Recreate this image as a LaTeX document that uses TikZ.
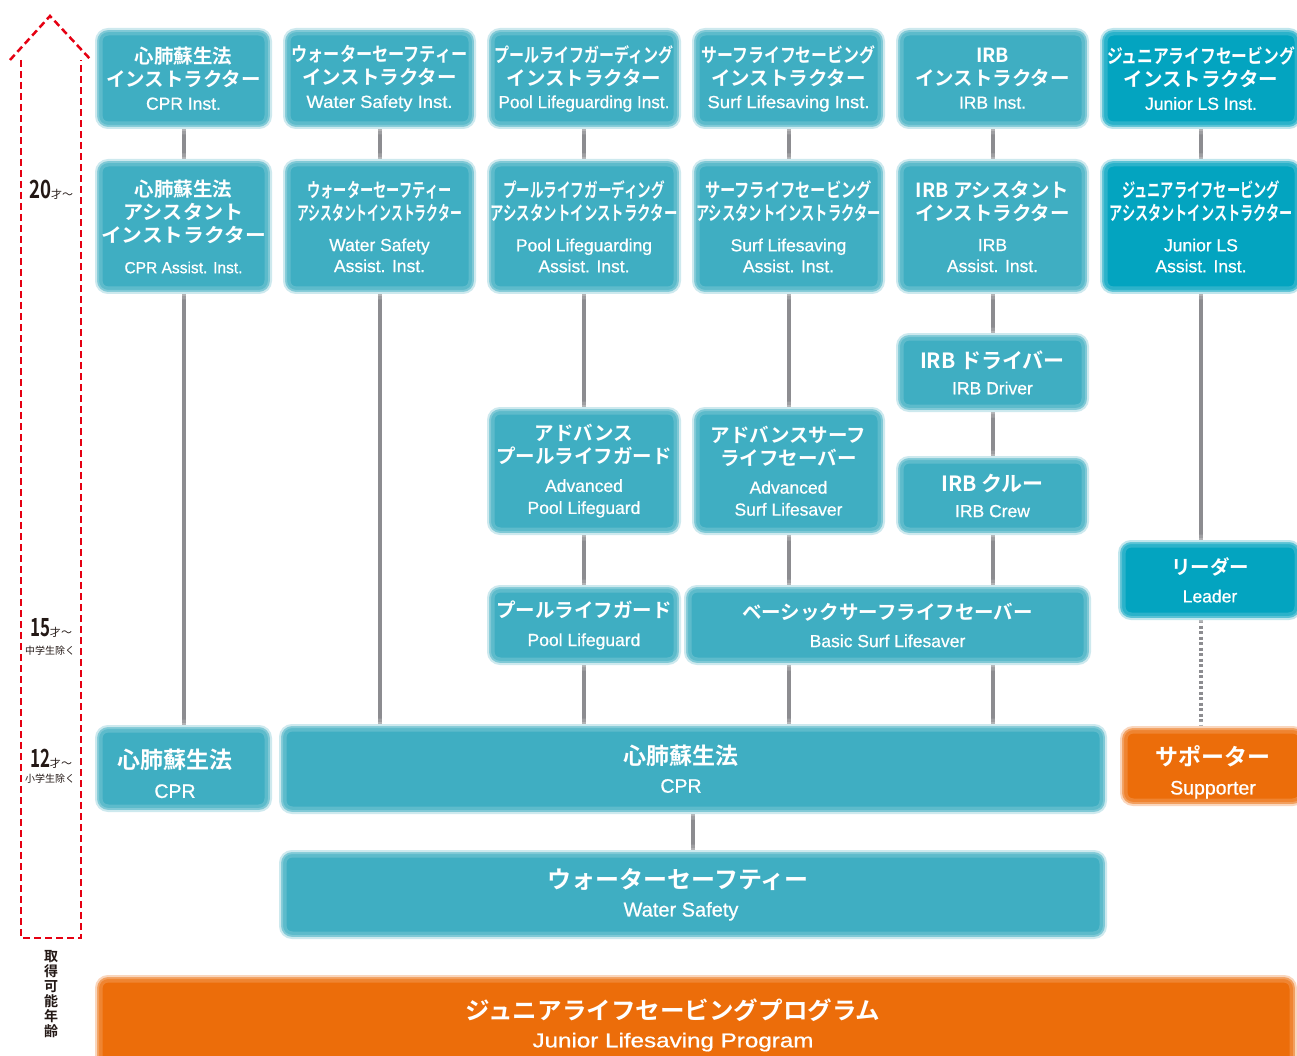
\documentclass[tikz,border=0pt]{standalone}
\usepackage{fontspec}
\usepackage{graphicx}
\setmainfont{Noto Sans CJK JP}[BoldFont={Noto Sans CJK JP Bold}]
\newfontfamily\lat{Liberation Sans}[FakeBold=0.7]
\usetikzlibrary{backgrounds}
\definecolor{tealA}{HTML}{3FAEC2}
\definecolor{tealAedge}{HTML}{B3DEE7}
\definecolor{tealB}{HTML}{03A4C0}
\definecolor{tealBedge}{HTML}{A0D9E4}
\definecolor{orng}{HTML}{EC6D0A}
\definecolor{orngedge}{HTML}{F7C29C}
\definecolor{linegray}{HTML}{8C8C90}
\definecolor{redd}{HTML}{E50012}
\definecolor{inkk}{HTML}{231815}
\newcommand\fw[2]{\resizebox{#1}{\height}{#2}}
\newcommand\en[1]{{\fontsize{17.5}{21}\selectfont\lat\mdseries #1}}
\newcommand\enb[2]{{\fontsize{#1}{#1}\selectfont\lat\mdseries #2}}
\begin{document}
\begin{tikzpicture}[x=1pt,y=-1pt,
  box/.style={rounded corners=12pt, fill=tealA, draw=tealAedge, line width=2pt,
    text=white, align=center, inner sep=0pt,
    font=\fontsize{19.5}{23}\selectfont\bfseries,
    postaction={draw=white, draw opacity=0.16, line width=13pt},
    postaction={draw=white, draw opacity=0.22, line width=6pt}},
  jbox/.style={box, fill=tealB, draw=tealBedge},
  obox/.style={box, fill=orng, draw=orngedge},
  conn/.style={draw=linegray, line width=4pt},
  dotconn/.style={conn, dash pattern=on 3pt off 2.5pt},
  agebox/.style={draw=redd, line width=2.5pt, dash pattern=on 7pt off 4pt},
  lbl/.style={text=inkk, inner sep=0pt, align=center}
]
\useasboundingbox (0,0) rectangle (1297,1056);
\clip (0,0) rectangle (1297,1056);

% ---- row 1
\node[box, minimum width=175pt, minimum height=99pt] (c11) at (183.5,78.5)
  {心肺蘇生法\\インストラクター\\\en{CPR Inst.}};
\node[box, minimum width=191pt, minimum height=99pt] (c12) at (379.5,78.5)
  {\fw{176pt}{ウォーターセーフティー}\\インストラクター\\\en{\fw{146pt}{Water Safety Inst.}}};
\node[box, minimum width=192pt, minimum height=99pt] (c13) at (584,78.5)
  {\fw{179pt}{プールライフガーディング}\\インストラクター\\\en{\fw{171pt}{Pool Lifeguarding Inst.}}};
\node[box, minimum width=191pt, minimum height=99pt] (c14) at (788.5,78.5)
  {\fw{174pt}{サーフライフセービング}\\インストラクター\\\en{\fw{162pt}{Surf Lifesaving Inst.}}};
\node[box, minimum width=191pt, minimum height=99pt] (c15) at (992.5,78.5)
  {IRB\\インストラクター\\\en{IRB Inst.}};
\node[jbox, minimum width=200pt, minimum height=99pt] (c16) at (1201,78.5)
  {\fw{188pt}{ジュニアライフセービング}\\インストラクター\\\en{Junior LS Inst.}};

% ---- row 2
\node[box, minimum width=175pt, minimum height=133pt] (c21) at (183.5,226.5)
  {心肺蘇生法\\\fw{120pt}{アシスタント}\\\fw{165pt}{インストラクター}\\[8pt]\enb{16}{\fw{118pt}{CPR Assist. Inst.}}};
\node[box, minimum width=191pt, minimum height=133pt] (c22) at (379.5,226.5)
  {\fw{144pt}{ウォーターセーフティー}\\\fw{165pt}{アシスタントインストラクター}\\[8pt]\en{Water Safety}\\[-2pt]\en{Assist. Inst.}};
\node[box, minimum width=192pt, minimum height=133pt] (c23) at (584,226.5)
  {\fw{162pt}{プールライフガーディング}\\\fw{187pt}{アシスタントインストラクター}\\[8pt]\en{Pool Lifeguarding}\\[-2pt]\en{Assist. Inst.}};
\node[box, minimum width=191pt, minimum height=133pt] (c24) at (788.5,226.5)
  {\fw{167pt}{サーフライフセービング}\\\fw{185pt}{アシスタントインストラクター}\\[8pt]\en{Surf Lifesaving}\\[-2pt]\en{Assist. Inst.}};
\node[box, minimum width=191pt, minimum height=133pt] (c25) at (992.5,226.5)
  {IRB アシスタント\\インストラクター\\[8pt]\en{IRB}\\[-2pt]\en{Assist. Inst.}};
\node[jbox, minimum width=200pt, minimum height=133pt] (c26) at (1201,226.5)
  {\fw{158pt}{ジュニアライフセービング}\\\fw{183pt}{アシスタントインストラクター}\\[8pt]\en{Junior LS}\\[-2pt]\en{Assist. Inst.}};

% ---- middle
\node[box, minimum width=191pt, minimum height=77pt] (drv) at (992.5,372.5)
  {{\fontsize{21}{25}\selectfont IRB ドライバー}\\[3pt]\en{IRB Driver}};
\node[box, minimum width=191pt, minimum height=77pt] (crew) at (992.5,495.5)
  {{\fontsize{21}{25}\selectfont IRB クルー}\\[3pt]\en{IRB Crew}};
\node[box, minimum width=192pt, minimum height=126pt] (ap) at (584,471)
  {アドバンス\\プールライフガード\\[5pt]\en{Advanced}\\[-1pt]\en{Pool Lifeguard}};
\node[box, minimum width=191pt, minimum height=126pt] (as) at (788.5,471)
  {アドバンスサーフ\\ライフセーバー\\[5pt]\en{Advanced}\\[-1pt]\en{Surf Lifesaver}};
\node[jbox, minimum width=182pt, minimum height=78pt] (ldr) at (1210,580)
  {リーダー\\[5pt]\en{Leader}};
\node[box, minimum width=192pt, minimum height=78pt] (plg) at (584,625)
  {プールライフガード\\[6pt]\en{Pool Lifeguard}};
\node[box, minimum width=405pt, minimum height=78pt] (bs) at (887.5,625)
  {ベーシックサーフライフセーバー\\[5pt]\en{Basic Surf Lifesaver}};

% ---- lower
\node[box, minimum width=175pt, minimum height=85pt] (cprl) at (183.5,768.5)
  {\rule{0pt}{30pt}\hspace*{-17pt}{\fontsize{23}{27}\selectfont 心肺蘇生法}\\[6pt]\hspace*{-17pt}\enb{19.5}{CPR}};
\node[box, minimum width=826pt, minimum height=88pt] (cprb) at (693,769)
  {\hspace*{-24pt}{\fontsize{23}{27}\selectfont 心肺蘇生法}\\[5pt]\hspace*{-24pt}\enb{19.5}{CPR}};
\node[obox, minimum width=184pt, minimum height=78pt] (sup) at (1213,766)
  {\rule{0pt}{32pt}{\fontsize{23}{27}\selectfont サポーター}\\[6pt]\enb{19.5}{Supporter}};
\node[box, minimum width=826pt, minimum height=87pt] (ws) at (693,894.5)
  {\hspace*{-30pt}{\fontsize{24}{28}\selectfont ウォーターセーフティー}\\[5pt]\hspace*{-24pt}\enb{20}{Water Safety}};
\node[obox, minimum width=1200pt, minimum height=98pt] (jlp) at (696,1025)
  {\hspace*{-46pt}{\fontsize{24}{28}\selectfont\fw{415pt}{ジュニアライフセービングプログラム}}\\[5pt]\hspace*{-46pt}\enb{20}{\fw{281pt}{Junior Lifesaving Program}}};

% ---- connectors
\begin{scope}[on background layer]
\draw[conn] (c11.south) -- (c21.north);
\draw[conn] (c21.south) -- (cprl.north);
\draw[conn] (c12.south) -- (c22.north);
\draw[conn] (c22.south) -- (c22.south |- cprb.north);
\draw[conn] (c13.south) -- (c23.north);
\draw[conn] (c23.south) -- (ap.north);
\draw[conn] (ap.south) -- (plg.north);
\draw[conn] (plg.south) -- (plg.south |- cprb.north);
\draw[conn] (c14.south) -- (c24.north);
\draw[conn] (c24.south) -- (as.north);
\draw[conn] (as.south) -- (as.south |- bs.north);
\draw[conn] (as.south |- bs.south) -- (as.south |- cprb.north);
\draw[conn] (c15.south) -- (c25.north);
\draw[conn] (c25.south) -- (drv.north);
\draw[conn] (drv.south) -- (crew.north);
\draw[conn] (crew.south) -- (crew.south |- bs.north);
\draw[conn] (crew.south |- bs.south) -- (crew.south |- cprb.north);
\draw[conn] (c16.south) -- (c26.north);
\draw[conn] (c26.south) -- (c26.south |- ldr.north);
\draw[dotconn] (c26.south |- ldr.south) -- (c26.south |- sup.north);
\draw[conn] (cprb.south) -- (ws.north);
\end{scope}

% ---- age axis
\draw[agebox] (10,60) -- (50,16) -- (91,60);
\draw[agebox] (21,60) -- (21,938) -- (81,938) -- (81,60);
\node[lbl] (a20) at (51,190)
  {{\fontsize{25}{25}\selectfont\bfseries\fw{22pt}{20}}{\fontsize{11}{11}\selectfont 才〜}};
\node[lbl] (a15) at (51,628)
  {{\fontsize{25}{25}\selectfont\bfseries\fw{20pt}{15}}{\fontsize{11}{11}\selectfont 才〜}};
\node[lbl, font=\fontsize{10}{12}\selectfont] (n15) at (50,651) {中学生除く};
\node[lbl] (a12) at (51,759)
  {{\fontsize{25}{25}\selectfont\bfseries\fw{20pt}{12}}{\fontsize{11}{11}\selectfont 才〜}};
\node[lbl, font=\fontsize{10}{12}\selectfont] (n12) at (50,779) {小学生除く};
\node[lbl, font=\fontsize{14}{15}\selectfont\bfseries] (ax) at (51,994)
  {取\\得\\可\\能\\年\\齢};
\end{tikzpicture}
\end{document}
